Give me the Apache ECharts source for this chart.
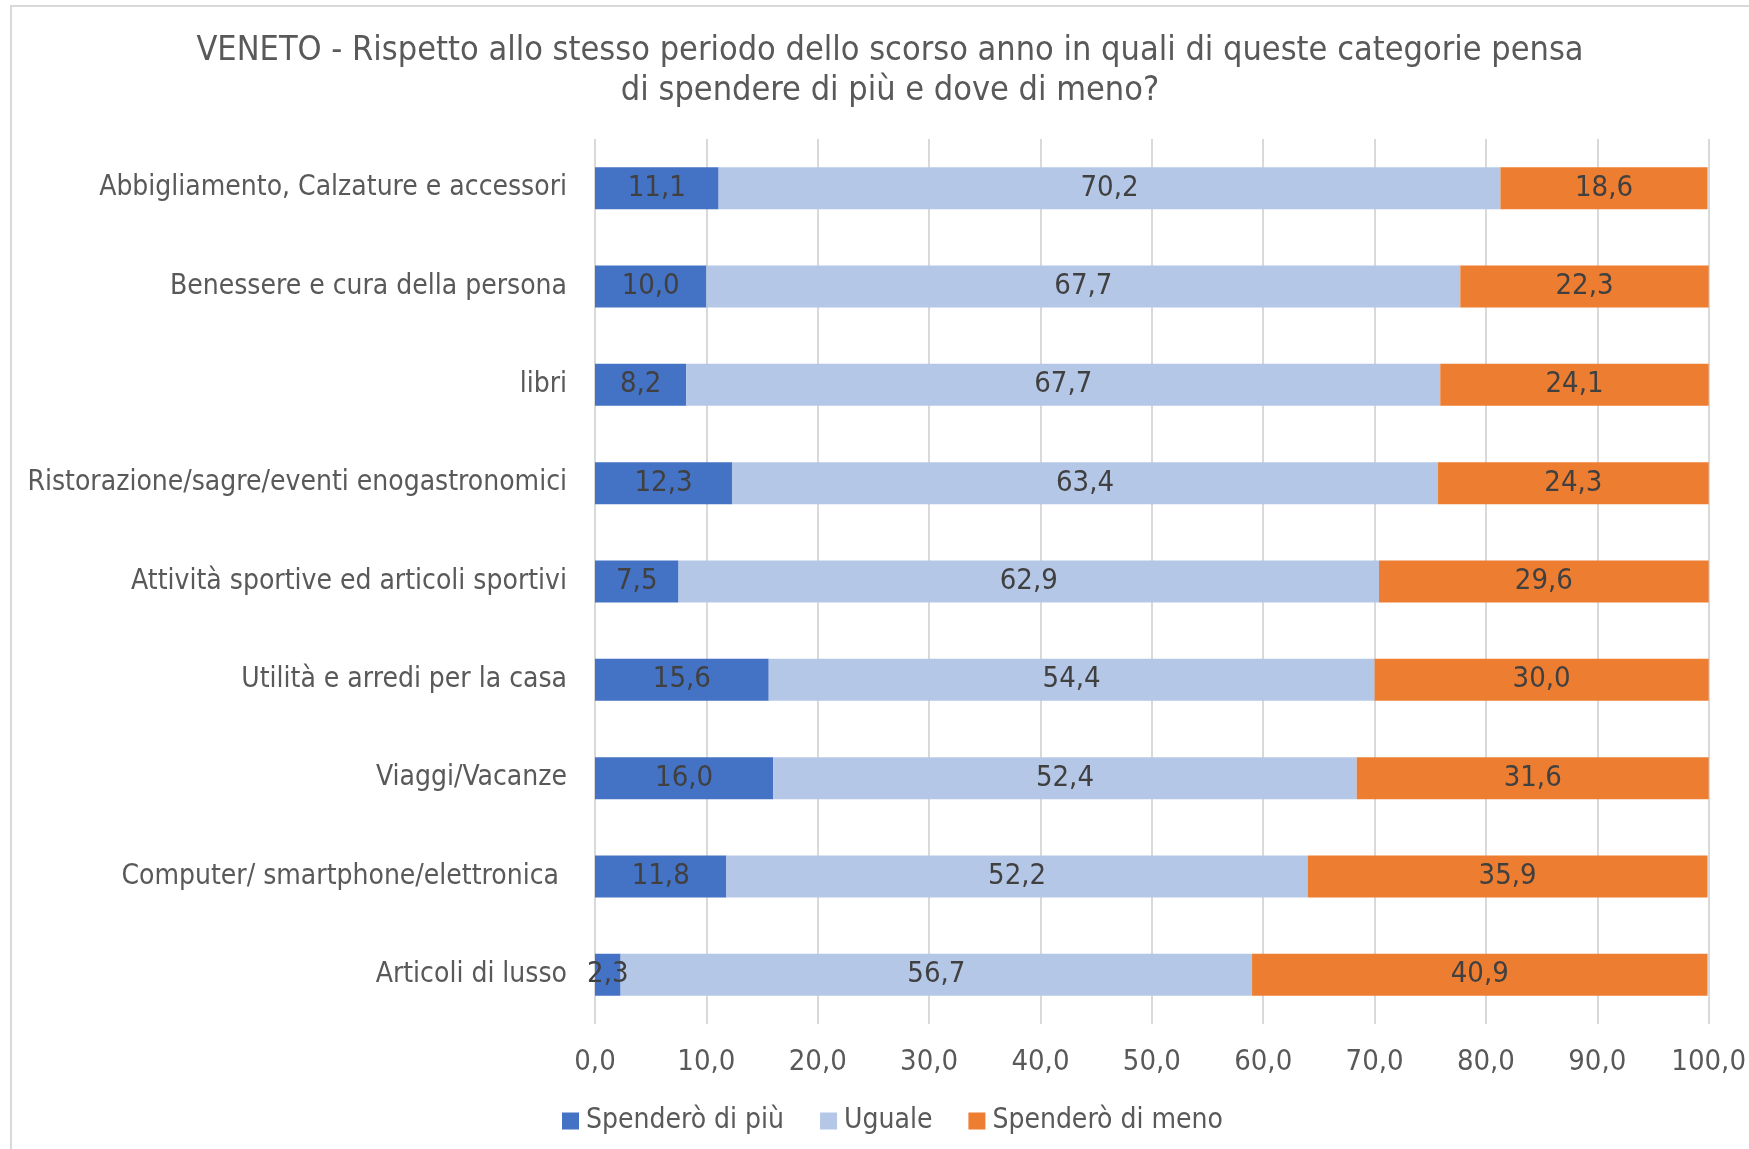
<!DOCTYPE html>
<html>
<head>
<meta charset="utf-8">
<script src="https://cdn.jsdelivr.net/npm/echarts@6/dist/echarts.min.js"></script>
<style>
html,body{margin:0;padding:0;background:#fff;}
#c{width:1749px;height:1149px;}
</style>
</head>
<body>
<div id="c"></div>
<script>
const categories = [
  'Abbigliamento, Calzature e accessori',
  'Benessere e cura della persona',
  'libri',
  'Ristorazione/sagre/eventi enogastronomici',
  'Attività sportive ed articoli sportivi',
  'Utilità e arredi per la casa',
  'Viaggi/Vacanze',
  'Computer/ smartphone/elettronica ',
  'Articoli di lusso'
];
const seriesNames = ['Spenderò di più', 'Uguale', 'Spenderò di meno'];
const spendereDiPiu = [11.1, 10.0, 8.2, 12.3, 7.5, 15.6, 16.0, 11.8, 2.3];
const uguale = [70.2, 67.7, 67.7, 63.4, 62.9, 54.4, 52.4, 52.2, 56.7];
const spendereDiMeno = [18.6, 22.3, 24.1, 24.3, 29.6, 30.0, 31.6, 35.9, 40.9];
const titleLines = ['VENETO - Rispetto allo stesso periodo dello scorso anno in quali di queste categorie pensa', 'di spendere di più e dove di meno?'];

const FONT = '"DejaVu Sans Condensed", "Liberation Sans Narrow", "DejaVu Sans", sans-serif';
const colors = ['#4472C4', '#B4C7E7', '#ED7D31'];
const fmt = v => Number(v).toFixed(1).replace('.', ',');

function mkSeries(name, data, color) {
  return {
    name: name,
    type: 'bar',
    stack: 'tot',
    data: data,
    barWidth: 42,
    itemStyle: { color: color },
    label: {
      show: true,
      position: 'inside',
      color: '#404040',
      fontFamily: FONT,
      fontSize: 29,
      padding: [6, 0, 0, 0],
      formatter: p => fmt(p.value)
    },
    emphasis: { disabled: true },
    animation: false
  };
}

const chart = echarts.init(document.getElementById('c'), null, { renderer: 'canvas' });
chart.setOption({
  backgroundColor: '#fff',
  animation: false,
  color: colors,
  title: {
    text: titleLines.join('\n'),
    left: 890,
    top: 31,
    textAlign: 'center',
    padding: 0,
    textStyle: {
      fontFamily: FONT,
      fontSize: 34,
      fontWeight: 'normal',
      color: '#595959',
      lineHeight: 40
    }
  },
  graphic: [{
    type: 'rect',
    shape: { x: 11, y: 6, width: 1800, height: 1200 },
    style: { fill: 'none', stroke: '#D9D9D9', lineWidth: 2 },
    silent: true,
    z: -10
  }],
  legend: {
    left: 557,
    top: 1102,
    itemWidth: 17,
    itemHeight: 17,
    itemGap: 36,
    icon: 'rect',
    textStyle: { fontFamily: FONT, fontSize: 28, color: '#595959', padding: [0, 0, 0, 2] },
    data: seriesNames
  },
  grid: { left: 595, right: 40, top: 139, bottom: 125, containLabel: false },
  xAxis: {
    type: 'value',
    min: 0,
    max: 100,
    interval: 10,
    axisLine: { show: false },
    axisTick: { show: false },
    splitLine: { show: true, lineStyle: { color: '#D9D9D9', width: 2 } },
    axisLabel: {
      margin: 24,
      fontFamily: FONT,
      fontSize: 29,
      color: '#595959',
      formatter: v => fmt(v)
    }
  },
  yAxis: {
    type: 'category',
    inverse: true,
    data: categories,
    axisLine: { show: false },
    axisTick: { show: false },
    axisLabel: {
      margin: 28,
      fontFamily: FONT,
      fontSize: 28,
      color: '#595959',
      padding: [6, 0, 0, 0]
    }
  },
  series: [
    mkSeries(seriesNames[0], spendereDiPiu, colors[0]),
    mkSeries(seriesNames[1], uguale, colors[1]),
    mkSeries(seriesNames[2], spendereDiMeno, colors[2])
  ]
});
</script>
</body>
</html>
